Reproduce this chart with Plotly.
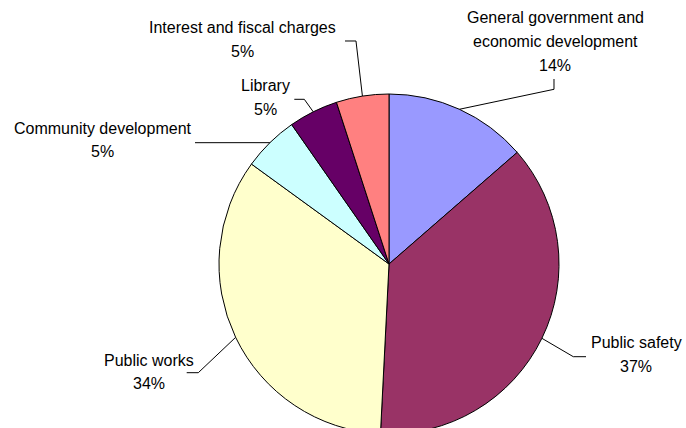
import math
import plotly.graph_objects as go

# ---- data ----
categories = [
    "General government and economic development",
    "Public safety",
    "Public works",
    "Community development",
    "Library",
    "Interest and fiscal charges",
]
values = [13.6, 37.2, 34.2, 5.3, 4.7, 5.0]
label_lines = [
    ["General government and", "economic development"],
    ["Public safety"],
    ["Public works"],
    ["Community development"],
    ["Library"],
    ["Interest and fiscal charges"],
]

# ---- styles / layout ----
colors = ["#9999FF", "#993366", "#FFFFCC", "#CCFFFF", "#660066", "#FF8080"]
W, H = 686, 434          # figure slightly taller than the 428 window so the pie bottom is clipped
cx, cy, r = 389, 264, 170
FONT = dict(family="Liberation Sans, Arial, sans-serif", size=16, color="#000000")
LINE_STEP = 23.8
# label first-line centre (px from top) and leader-line elbow/end points (px)
label_pos = [(555, 17.5), (636, 342.5), (149, 360), (102.5, 128), (265, 85.5), (242, 27.5)]
elbows = [
    [(554, 89.3), (554, 79)],
    [(573.3, 356.7), (586, 356.7)],
    [(198.3, 372.7), (186.7, 372.7)],
    [(195, 142.7)],
    [(304.3, 99.3), (294.3, 99.3)],
    [(356, 41), (345, 41)],
]


def px(x):
    return x / W


def py(y):
    return 1 - y / H


fig = go.Figure(
    go.Pie(
        labels=categories,
        values=values,
        sort=False,
        direction="clockwise",
        rotation=0,
        textinfo="none",
        hoverinfo="label+percent",
        marker=dict(colors=colors, line=dict(color="#000000", width=1)),
        domain=dict(x=[(cx - r) / W, (cx + r) / W], y=[max(0, 1 - (cy + r) / H), 1 - (cy - r) / H]),
        showlegend=False,
    )
)

total = sum(values)
annotations = []
shapes = []
cum = 0.0
for i, v in enumerate(values):
    mid = (cum + v / 2) / total * 2 * math.pi
    cum += v
    ax = cx + r * math.sin(mid)
    ay = cy - r * math.cos(mid)
    pts = [(ax, ay)] + elbows[i]
    path = "M " + " L ".join(f"{px(x):.5f},{py(y):.5f}" for x, y in pts)
    shapes.append(dict(type="path", path=path, xref="paper", yref="paper",
                       line=dict(color="#000000", width=1)))
    lines = label_lines[i] + [f"{round(v / total * 100)}%"]
    lx, ly = label_pos[i]
    for j, t in enumerate(lines):
        annotations.append(dict(text=t, x=px(lx), y=py(ly + j * LINE_STEP), xref="paper", yref="paper",
                                xanchor="center", yanchor="middle", showarrow=False, font=FONT))

fig.update_layout(
    width=W, height=H,
    margin=dict(l=0, r=0, t=0, b=0),
    paper_bgcolor="#FFFFFF",
    plot_bgcolor="#FFFFFF",
    annotations=annotations,
    shapes=shapes,
)

fig.write_html("out.html")
